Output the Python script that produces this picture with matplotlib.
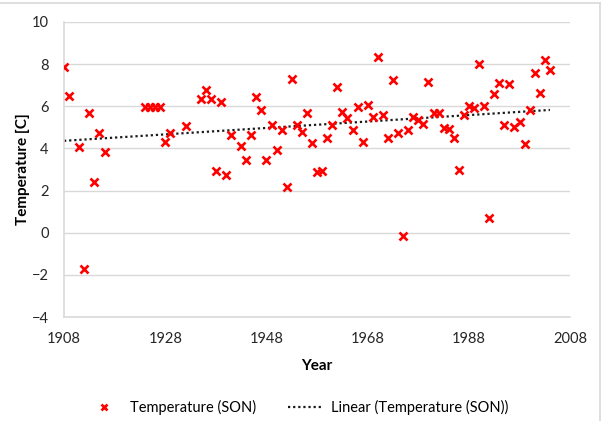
import numpy as np
import matplotlib
matplotlib.use("Agg")
import matplotlib.pyplot as plt
from matplotlib.lines import Line2D

# autumn (SON) mean temperature per year
years = [1908, 1909, 1911, 1912, 1913, 1914, 1915, 1916,
         1924, 1925, 1926, 1927, 1928, 1929, 1932, 1935, 1936, 1937, 1938, 1939,
         1940, 1941, 1943, 1944, 1945, 1946, 1947, 1948, 1949,
         1950, 1951, 1952, 1953, 1954, 1955, 1956, 1957, 1958, 1959,
         1960, 1961, 1962, 1963, 1964, 1965, 1966, 1967, 1968, 1969,
         1970, 1971, 1972, 1973, 1974, 1975, 1976, 1977, 1978, 1979,
         1980, 1981, 1982, 1983, 1984, 1985, 1986, 1987, 1988, 1989,
         1990, 1991, 1992, 1993, 1994, 1995, 1996, 1997, 1998, 1999,
         2000, 2001, 2002, 2003, 2004]
temps = [7.87, 6.48, 4.06, -1.71, 5.70, 2.40, 4.75, 3.81,
         5.97, 5.94, 5.94, 5.97, 4.29, 4.73, 5.06, 6.36, 6.76, 6.35, 2.92, 6.22,
         2.76, 4.63, 4.10, 3.43, 4.62, 6.44, 5.84, 3.46, 5.10,
         3.90, 4.89, 2.16, 7.29, 5.10, 4.78, 5.68, 4.25, 2.86, 2.95,
         4.51, 5.10, 6.89, 5.73, 5.46, 4.86, 5.97, 4.32, 6.06, 5.49,
         8.35, 5.56, 4.48, 7.22, 4.75, -0.17, 4.87, 5.49, 5.33, 5.14,
         7.16, 5.68, 5.68, 4.98, 4.92, 4.48, 2.98, 5.59, 6.00, 5.90,
         8.00, 6.00, 0.70, 6.57, 7.11, 5.13, 7.05, 5.02, 5.24, 4.19,
         5.81, 7.59, 6.65, 8.19, 7.70]
xticks = [1908, 1928, 1948, 1968, 1988, 2008]
yticks = [-4, -2, 0, 2, 4, 6, 8, 10]

plt.rcParams['font.family'] = ['Lato', 'DejaVu Sans']
plt.rcParams['font.size'] = 10.5

x = np.array(years)
y = np.array(temps)
slope, icpt = np.polyfit(x, y, 1)
xfit = np.array([x.min(), x.max()])

fig = plt.figure(figsize=(6.04, 4.21), dpi=100)
ax = fig.add_axes([0.106, 0.247, 0.838, 0.701])

grid_col = '#d9d9d9'
for v in yticks[1:]:
    ax.axhline(v, color=grid_col, lw=1.0, zorder=0)

ax.plot(x, y, linestyle='none', marker='x', color='#ff0000',
        markersize=5.5, mew=1.9, label='Temperature (SON)', zorder=3)
ax.plot(xfit, slope * xfit + icpt, color='#1a1a1a', lw=1.6,
        linestyle=(0, (1, 1.3)), label='Linear (Temperature (SON))', zorder=2)

ax.set_xlim(1908, 2008)
ax.set_ylim(-4, 10)
ax.set_xticks(xticks)
ax.set_yticks(yticks)
ax.tick_params(length=0, pad=11, labelsize=10.5, colors='#262626')
for s in ['top', 'right']:
    ax.spines[s].set_visible(False)
for s in ['left', 'bottom']:
    ax.spines[s].set_color(grid_col)
    ax.spines[s].set_linewidth(1.2)

ax.set_xlabel('Year', fontweight='bold', fontsize=11, labelpad=9)
ax.set_ylabel('Temperature [C]', fontweight='bold', fontsize=11, labelpad=1)

fig.legend(loc='center', bbox_to_anchor=(0.493, 0.033), ncol=2, frameon=False,
           fontsize=10.5, handlelength=2.4, handletextpad=0.55, columnspacing=2.2,
           markerscale=0.8)

# chart area border
fig.add_artist(Line2D([0, 0.994], [0.993, 0.993], color=grid_col, lw=1.2))
fig.add_artist(Line2D([0.994, 0.994], [0, 0.993], color=grid_col, lw=1.2))

fig.savefig('out.png', dpi=100)
